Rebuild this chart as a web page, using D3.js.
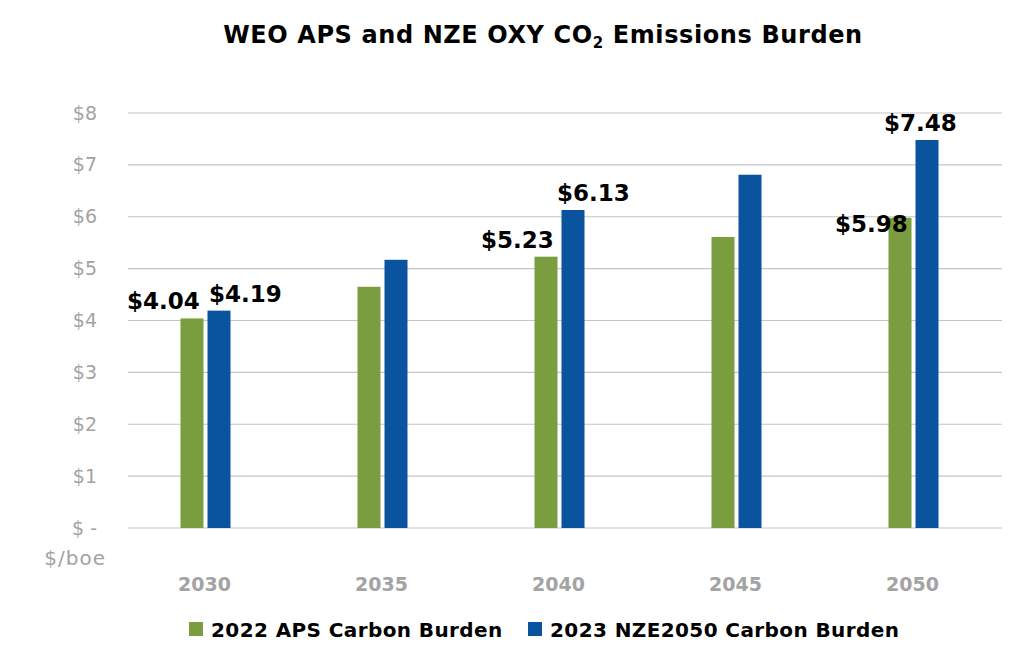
<!DOCTYPE html>
<html>
<head>
<meta charset="utf-8">
<script src="https://cdn.jsdelivr.net/npm/d3@7"></script>
<style>
  body { margin: 0; background: #fff; }
  text { font-family: "DejaVu Sans", Verdana, sans-serif; }
</style>
</head>
<body>
<div id="chart"></div>
<script>
// chart data
let years = ["2030", "2035", "2040", "2045", "2050"];
let apsValues = [4.04, 4.65, 5.23, 5.61, 5.98];
let nzeValues = [4.19, 5.17, 6.13, 6.81, 7.48];
let seriesNames = ["2022 APS Carbon Burden", "2023 NZE2050 Carbon Burden"];
let yTicks = [0, 1, 2, 3, 4, 5, 6, 7, 8];
// which bars get a value label
let apsLabelled = ["2030", "2040", "2050"];
let nzeLabelled = ["2030", "2040", "2050"];

let svgWidth = 1025;
let svgHeight = 645;
let green = "#7a9e3f";
let blue = "#0a539e";
let gray = "#a3a3a3";
let fontFamily = "DejaVu Sans, Verdana, sans-serif";

let svg = d3.select("#chart")
  .append("svg")
  .attr("width", svgWidth)
  .attr("height", svgHeight);

// title with subscript
let title = svg.append("text")
  .attr("x", 543)
  .attr("y", 43)
  .attr("text-anchor", "middle")
  .attr("font-size", "24px")
  .attr("font-weight", "bold")
  .attr("letter-spacing", "0.6px")
  .attr("fill", "#000");
title.append("tspan").text("WEO APS and NZE OXY CO");
title.append("tspan").attr("font-size", "15px").attr("dy", 5).text("2");
title.append("tspan").attr("dy", -5).text(" Emissions Burden");

let xScale = d3.scaleBand()
  .domain(years)
  .range([117, 1002]);

let yScale = d3.scaleLinear()
  .domain([0, 8])
  .range([528, 113]);

// gridlines
svg.append("g")
  .selectAll("line")
  .data(yTicks)
  .enter()
  .append("line")
  .attr("x1", 128)
  .attr("x2", 1002)
  .attr("y1", d => yScale(d))
  .attr("y2", d => yScale(d))
  .attr("stroke", "#c4c4c4")
  .attr("stroke-width", 1.2);

// y axis tick labels
let leftAxis = d3.axisLeft(yScale)
  .tickValues(yTicks)
  .tickSize(0)
  .tickPadding(0)
  .tickFormat(d => d === 0 ? "$ -" : "$" + d);

let yAxis = svg.append("g")
  .attr("transform", "translate(97,0)")
  .call(leftAxis);
yAxis.select(".domain").remove();
yAxis.selectAll("text")
  .attr("font-size", "19px")
  .attr("fill", gray)
  .attr("font-family", fontFamily);

svg.append("text")
  .attr("x", 106)
  .attr("y", 565)
  .attr("text-anchor", "end")
  .attr("font-size", "20px")
  .attr("letter-spacing", "1px")
  .attr("fill", gray)
  .text("$/boe");

// x axis category labels
let bottomAxis = d3.axisBottom(xScale).tickSize(0).tickPadding(0);
let xAxis = svg.append("g")
  .attr("transform", "translate(-1,577)")
  .call(bottomAxis);
xAxis.select(".domain").remove();
xAxis.selectAll("text")
  .attr("font-size", "19px")
  .attr("font-weight", "bold")
  .attr("fill", gray)
  .attr("font-family", fontFamily);

// bars
let barWidth = 23;
let barGap = 4;
let rows = years.map((y, i) => ({ year: y, aps: apsValues[i], nze: nzeValues[i] }));

svg.append("g")
  .selectAll("rect")
  .data(rows)
  .enter()
  .append("rect")
  .attr("x", d => xScale(d.year) + xScale.bandwidth() / 2 - barWidth - barGap / 2)
  .attr("y", d => yScale(d.aps))
  .attr("width", barWidth)
  .attr("height", d => yScale(0) - yScale(d.aps))
  .attr("fill", green);

svg.append("g")
  .selectAll("rect")
  .data(rows)
  .enter()
  .append("rect")
  .attr("x", d => xScale(d.year) + xScale.bandwidth() / 2 + barGap / 2)
  .attr("y", d => yScale(d.nze))
  .attr("width", barWidth)
  .attr("height", d => yScale(0) - yScale(d.nze))
  .attr("fill", blue);

// value labels (green ones sit to the left of their bar)
let labelFont = "23px";
svg.append("g")
  .selectAll("text")
  .data(rows.filter(d => apsLabelled.includes(d.year)))
  .enter()
  .append("text")
  .attr("x", d => xScale(d.year) + xScale.bandwidth() / 2 - 42)
  .attr("y", d => d.year === "2050" ? yScale(d.aps) + 14 : yScale(d.aps) - 9)
  .attr("text-anchor", "middle")
  .attr("font-size", labelFont)
  .attr("font-weight", "bold")
  .attr("fill", "#000")
  .text(d => "$" + d.aps.toFixed(2));

svg.append("g")
  .selectAll("text")
  .data(rows.filter(d => nzeLabelled.includes(d.year)))
  .enter()
  .append("text")
  .attr("x", d => xScale(d.year) + xScale.bandwidth() / 2 + (d.year === "2050" ? 7 : d.year === "2040" ? 34 : 40))
  .attr("y", d => yScale(d.nze) - 9)
  .attr("text-anchor", "middle")
  .attr("font-size", labelFont)
  .attr("font-weight", "bold")
  .attr("fill", "#000")
  .text(d => "$" + d.nze.toFixed(2));

// legend
let legend = svg.append("g");
let legendX = [189, 528];
seriesNames.forEach(function(name, i) {
  legend.append("rect")
    .attr("x", legendX[i])
    .attr("y", 622)
    .attr("width", 14)
    .attr("height", 14)
    .attr("fill", i === 0 ? green : blue);
  legend.append("text")
    .attr("x", legendX[i] + 22)
    .attr("y", 637)
    .attr("font-size", "20px")
    .attr("font-weight", "bold")
    .attr("letter-spacing", "0.4px")
    .attr("fill", "#000")
    .text(name);
});
</script>
</body>
</html>
